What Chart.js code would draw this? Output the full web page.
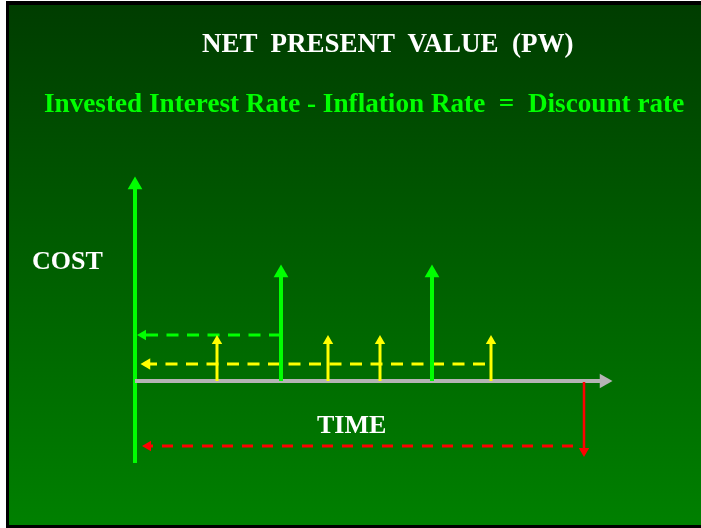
<!DOCTYPE html>
<html>
<head>
<meta charset="utf-8">
<script src="https://cdn.jsdelivr.net/npm/chart.js@4"></script>
<style>
  html, body { margin: 0; padding: 0; background: #ffffff; }
  #slide {
    position: absolute; left: 6px; top: 1px; width: 695px; height: 527px;
    box-sizing: border-box;
    border-left: 3px solid #000; border-top: 4px solid #000; border-bottom: 3px solid #000;
    background: linear-gradient(#003d00, #008000);
  }
  .txt { position: absolute; font-family: "Liberation Serif", "Times New Roman", serif; font-weight: bold; white-space: pre; line-height: 1; }
  #title { left: 202px; top: 30px; font-size: 27px; color: #ffffff; }
  #sub { left: 44px; top: 90px; font-size: 27.2px; color: #00ff00; }
  #cost { left: 32px; top: 248px; font-size: 26px; color: #ffffff; }
  #time { left: 317px; top: 412px; font-size: 26px; color: #ffffff; }
  #wrap { position: absolute; left: 0; top: 0; width: 701px; height: 528px; }
</style>
</head>
<body>
<div id="slide"></div>
<div id="wrap"><canvas id="chart"></canvas></div>
<div class="txt" id="title">NET  PRESENT  VALUE  (PW)</div>
<div class="txt" id="sub">Invested Interest Rate - Inflation Rate  =  Discount rate</div>
<div class="txt" id="cost">COST</div>
<div class="txt" id="time">TIME</div>
<script>
// time / cost units (origin = where the axes cross)
var majorTimes = [14.6, 29.7];          // large (green) costs
var majorCost = 10.8;
var minorTimes = [8.2, 19.3, 24.5, 35.6]; // small (yellow) costs
var minorCost = 4.0;
var costAxis = [-8.2, 19.6];            // vertical axis from / to
var timeAxisEnd = 46.9;
var greenPV = { from: 14.6, to: 0.8, level: 4.6 };
var yellowPV = { from: 35.0, to: 1.2, level: 1.7 };
var endTime = 44.9;
var redDrop = -7.0;
var redPV = { from: 43.8, to: 1.3, level: -6.5 };

var GREEN = '#00ff00', YELLOW = '#ffff00', RED = '#ff0000', GRAY = '#b4b4b4';

// one line with a triangle head at its second point
function arrow(p0, p1, color, width, radius, rot, dash) {
    return {
        data: [p0, p1],
        showLine: true,
        borderColor: color,
        borderWidth: width,
        borderDash: dash || [],
        pointStyle: 'triangle',
        pointRadius: [0, radius],
        pointRotation: [0, rot],
        pointBackgroundColor: color,
        pointBorderWidth: 0,
        borderCapStyle: 'butt'
    };
}

var datasets = [];
// first in list = drawn on top
majorTimes.forEach(function (t) {
    datasets.push(arrow({x: t, y: 0}, {x: t, y: majorCost}, GREEN, 4, 8.5, 0));
});
minorTimes.forEach(function (t) {
    datasets.push(arrow({x: t, y: 0}, {x: t, y: minorCost}, YELLOW, 3, 6, 0));
});
datasets.push(arrow({x: greenPV.from, y: greenPV.level}, {x: greenPV.to, y: greenPV.level}, GREEN, 3, 6, 270, [12, 8.5]));
datasets.push(arrow({x: yellowPV.from, y: yellowPV.level}, {x: yellowPV.to, y: yellowPV.level}, YELLOW, 3, 6.5, 270, [12, 8.5]));
datasets.push(arrow({x: endTime, y: -0.1}, {x: endTime, y: redDrop}, RED, 2.5, 6, 180));
datasets.push(arrow({x: redPV.from, y: redPV.level}, {x: redPV.to, y: redPV.level}, RED, 3, 6, 270, [11, 9]));
datasets.push(arrow({x: 0, y: 0}, {x: timeAxisEnd, y: 0}, GRAY, 4, 8.5, 90));
datasets.push(arrow({x: 0, y: costAxis[0]}, {x: 0, y: costAxis[1]}, GREEN, 4, 8.5, 0));

var ctx = document.getElementById('chart').getContext('2d');
var chart = new Chart(ctx, {
    type: 'scatter',
    data: { datasets: datasets },
    options: {
        responsive: true,
        maintainAspectRatio: false,
        animation: false,
        events: [],
        layout: { padding: 0, autoPadding: false },
        plugins: { legend: { display: false }, tooltip: { enabled: false } },
        scales: {
            x: { type: 'linear', min: -13.5, max: 56.6, display: false },
            y: { type: 'linear', min: -14.7, max: 38.1, display: false }
        }
    }
});
</script>
</body>
</html>
